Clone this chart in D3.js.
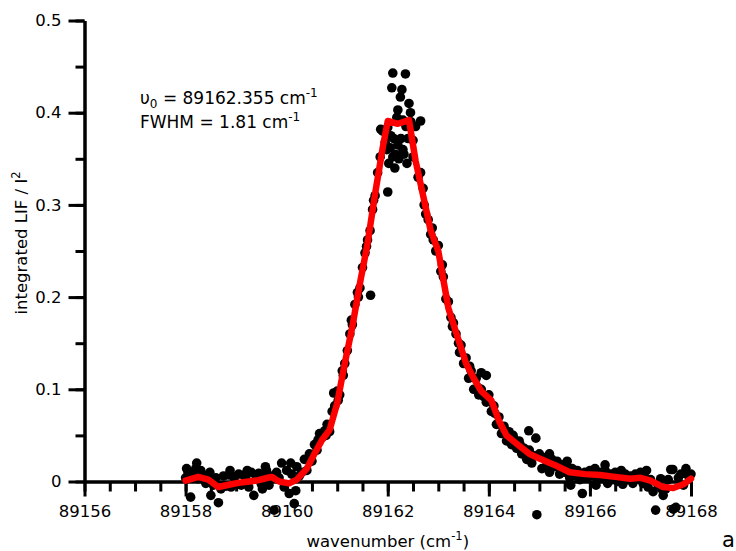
<!DOCTYPE html>
<html>
<head>
<meta charset="utf-8">
<script src="https://cdn.jsdelivr.net/npm/d3@7"></script>
<style>
  body { margin: 0; background: #fff; }
  svg { display: block; font-family: "DejaVu Sans", Verdana, sans-serif; }
</style>
</head>
<body>
<div id="chart"></div>
<script>
/*************************/
/* CONSTANTS AND GLOBALS */
/*************************/
const width = 736;
const height = 551;
const margin = { top: 20.5, bottom: 69.5, left: 84.5, right: 45 };

/* axis ticks */
const xMajorTicks = [89156, 89158, 89160, 89162, 89164, 89166, 89168];
const yMajorTicks = [0, 0.1, 0.2, 0.3, 0.4, 0.5];
const yTickLabels = ["0", "0.1", "0.2", "0.3", "0.4", "0.5"];

/* measured points: [wavenumber, integrated LIF / I^2] */
const signal = [
  [89158.00, 0.004], [89158.05, 0.010], [89158.10, -0.017], [89158.15, 0.008], [89158.20, 0.014],
  [89158.25, 0.003], [89158.30, 0.012], [89158.35, 0.006], [89158.40, -0.002], [89158.45, 0.007],
  [89158.50, -0.015], [89158.55, -0.004], [89158.60, 0.004], [89158.65, -0.023], [89158.70, -0.008],
  [89158.75, 0.006], [89158.80, -0.005], [89158.85, 0.007], [89158.90, -0.006], [89158.95, 0.005],
  [89159.00, -0.002], [89159.05, 0.008], [89159.10, -0.004], [89159.15, 0.007], [89159.20, 0.002],
  [89159.25, -0.006], [89159.30, 0.010], [89159.35, -0.015], [89159.40, 0.004], [89159.45, 0.009],
  [89159.50, -0.003], [89159.55, 0.008], [89159.60, 0.012], [89159.65, -0.004], [89159.70, 0.006],
  [89159.75, -0.031], [89159.80, 0.010], [89159.85, 0.004], [89159.90, 0.020], [89159.95, -0.006],
  [89160.00, 0.012], [89160.05, -0.013], [89160.10, 0.008], [89160.15, -0.024], [89160.20, 0.016],
  [89160.25, 0.006], [89160.30, 0.010], [89160.35, 0.024], [89160.40, 0.012], [89160.45, 0.030],
  [89160.50, 0.022], [89160.55, 0.040], [89160.60, 0.034], [89160.65, 0.052], [89160.70, 0.048],
  [89160.75, 0.055], [89160.80, 0.062], [89160.85, 0.054], [89160.90, 0.076], [89160.95, 0.082],
  [89161.00, 0.098], [89161.05, 0.094], [89161.10, 0.120], [89161.15, 0.128], [89161.20, 0.142],
  [89161.25, 0.160], [89161.30, 0.170], [89161.35, 0.192], [89161.40, 0.205], [89161.45, 0.210],
  [89161.50, 0.232], [89161.55, 0.248], [89161.60, 0.262], [89161.65, 0.272], [89161.70, 0.295],
  [89161.75, 0.310], [89161.80, 0.335], [89161.85, 0.352], [89161.90, 0.380], [89161.95, 0.368],
  [89162.00, 0.384], [89162.05, 0.362], [89162.10, 0.443], [89162.15, 0.355], [89162.20, 0.403],
  [89162.25, 0.417], [89162.30, 0.360], [89162.35, 0.442], [89162.40, 0.372], [89162.45, 0.400],
  [89162.50, 0.352], [89162.55, 0.385], [89162.60, 0.330], [89162.65, 0.335], [89162.70, 0.318],
  [89162.75, 0.290], [89162.80, 0.284], [89162.85, 0.268], [89162.90, 0.262], [89162.95, 0.250],
  [89163.00, 0.256], [89163.05, 0.228], [89163.10, 0.222], [89163.15, 0.198], [89163.20, 0.195],
  [89163.25, 0.178], [89163.30, 0.172], [89163.35, 0.160], [89163.40, 0.150], [89163.45, 0.148],
  [89163.50, 0.128], [89163.55, 0.134], [89163.60, 0.112], [89163.65, 0.120], [89163.70, 0.100],
  [89163.75, 0.112], [89163.80, 0.094], [89163.85, 0.100], [89163.90, 0.092], [89163.95, 0.086],
  [89164.00, 0.094], [89164.05, 0.076], [89164.10, 0.082], [89164.15, 0.062], [89164.20, 0.070],
  [89164.25, 0.052], [89164.30, 0.060], [89164.35, 0.044], [89164.40, 0.054], [89164.45, 0.040],
  [89164.50, 0.046], [89164.55, 0.036], [89164.60, 0.044], [89164.65, 0.030], [89164.70, 0.036],
  [89164.75, 0.024], [89164.80, 0.034], [89164.85, 0.020], [89164.90, 0.028], [89164.95, -0.036],
  [89165.00, 0.030], [89165.05, 0.014], [89165.10, 0.026], [89165.15, 0.018], [89165.20, 0.010],
  [89165.25, 0.024], [89165.30, 0.016], [89165.35, 0.022], [89165.40, 0.008], [89165.45, 0.018],
  [89165.50, 0.010], [89165.55, 0.016], [89165.60, 0.004], [89165.65, 0.014], [89165.70, 0.006],
  [89165.75, 0.012], [89165.80, 0.002], [89165.85, -0.013], [89165.90, 0.010], [89165.95, 0.004],
  [89166.00, 0.012], [89166.05, 0.006], [89166.10, 0.014], [89166.15, 0.002], [89166.20, 0.010],
  [89166.25, 0.004], [89166.30, 0.012], [89166.35, -0.002], [89166.40, 0.008], [89166.45, 0.002],
  [89166.50, 0.010], [89166.55, 0.000], [89166.60, 0.006], [89166.65, -0.003], [89166.70, 0.008],
  [89166.75, 0.002], [89166.80, 0.006], [89166.85, -0.002], [89166.90, 0.008], [89166.95, 0.004],
  [89167.00, 0.010], [89167.05, -0.002], [89167.10, 0.004], [89167.15, -0.006], [89167.20, 0.002],
  [89167.25, -0.011], [89167.30, -0.031], [89167.35, -0.004], [89167.40, 0.003], [89167.45, -0.015],
  [89167.50, -0.008], [89167.55, 0.002], [89167.60, 0.013], [89167.65, -0.030], [89167.70, -0.028],
  [89167.75, 0.004], [89167.80, 0.008], [89167.85, -0.004], [89167.90, 0.010], [89167.95, 0.006],
  [89168.00, 0.008],
  // second pass, peak and wings
  [89162.08, 0.427], [89162.28, 0.425], [89162.18, 0.395], [89162.42, 0.410], [89162.65, 0.391],
  [89161.86, 0.382], [89162.02, 0.345], [89162.22, 0.350], [89162.38, 0.345], [89161.66, 0.202],
  [89162.00, 0.314], [89162.50, 0.370], [89162.12, 0.372], [89164.79, 0.055], [89164.93, 0.047],
  [89163.95, 0.115], [89163.85, 0.118], [89160.93, 0.096], [89158.02, 0.014], [89158.22, 0.020],
  [89159.58, 0.016], [89160.08, 0.020], [89165.20, 0.030], [89165.55, 0.022], [89166.30, 0.018],
  [89167.64, 0.013], [89167.90, 0.014],
  [89161.98, 0.360], [89162.06, 0.375], [89162.14, 0.340], [89162.26, 0.372], [89162.32, 0.355],
  [89162.36, 0.385], [89162.46, 0.390], [89162.10, 0.352], [89162.30, 0.392], [89162.20, 0.365],
  [89160.62, 0.045], [89160.78, 0.050], [89161.02, 0.088], [89161.12, 0.115], [89161.28, 0.175],
  [89161.42, 0.200], [89161.58, 0.255], [89161.72, 0.305], [89162.72, 0.300], [89162.88, 0.275],
  [89163.08, 0.235], [89163.28, 0.168], [89163.42, 0.140], [89163.62, 0.125], [89163.78, 0.102],
  [89164.12, 0.074], [89164.28, 0.058], [89164.48, 0.050], [89164.62, 0.040], [89164.72, 0.030],
  [89158.48, 0.010], [89158.88, 0.012], [89159.22, 0.012], [89159.52, -0.008], [89160.18, -0.010],
  [89165.62, -0.004], [89166.12, -0.004], [89166.62, 0.012], [89167.12, 0.012], [89167.42, -0.008]
];

/* fitted profile */
const fit = [
  [89158.00, 0.001], [89158.25, 0.005], [89158.45, 0.002], [89158.65, -0.006], [89158.90, -0.003],
  [89159.10, -0.001], [89159.40, 0.001], [89159.55, 0.003], [89159.70, 0.005], [89159.85, 0.000],
  [89160.05, -0.002], [89160.20, 0.002], [89160.40, 0.014], [89160.55, 0.030], [89160.70, 0.045],
  [89160.85, 0.056], [89161.00, 0.085], [89161.15, 0.128], [89161.30, 0.168], [89161.45, 0.215],
  [89161.60, 0.258], [89161.75, 0.312], [89161.90, 0.362], [89162.00, 0.391], [89162.20, 0.388],
  [89162.42, 0.392], [89162.55, 0.348], [89162.70, 0.310], [89162.85, 0.272], [89163.00, 0.250],
  [89163.20, 0.188], [89163.35, 0.162], [89163.55, 0.128], [89163.70, 0.112], [89163.85, 0.098],
  [89164.05, 0.088], [89164.20, 0.066], [89164.35, 0.050], [89164.55, 0.041], [89164.80, 0.030],
  [89165.00, 0.025], [89165.30, 0.018], [89165.60, 0.010], [89165.90, 0.008], [89166.20, 0.007],
  [89166.50, 0.005], [89166.80, 0.003], [89167.00, 0.004], [89167.20, 0.001], [89167.45, -0.006],
  [89167.65, -0.007], [89167.85, -0.003], [89168.00, 0.003]
];

/* annotation */
const centre = "89162.355";
const fwhm = "1.81";

/*********************************************************************/
/****************************** SCALES *******************************/
/*********************************************************************/
const xScale = d3.scaleLinear()
  .domain([89156, 89168])
  .range([margin.left, width - margin.right]);

const yScale = d3.scaleLinear()
  .domain([0, 0.5])
  .range([height - margin.bottom, margin.top]);

const svg = d3.select("#chart")
  .append("svg")
  .attr("width", width)
  .attr("height", height);

/*********************************************************************/
/******************************* AXES ********************************/
/*********************************************************************/
const x0 = height - margin.bottom;

// minor x ticks every 0.5
svg.append("g")
  .attr("class", "x-minor")
  .attr("transform", `translate(0, ${x0})`)
  .call(d3.axisBottom(xScale).tickValues(d3.range(89156, 89168.01, 0.5)).tickSize(10).tickSizeOuter(0).tickFormat(""));

svg.append("g")
  .attr("class", "x-major")
  .attr("transform", `translate(0, ${x0})`)
  .call(d3.axisBottom(xScale).tickValues(xMajorTicks).tickSize(15).tickSizeOuter(0).tickPadding(9).tickFormat(d3.format("d")));

svg.append("g")
  .attr("class", "y-minor")
  .attr("transform", `translate(${margin.left}, 0)`)
  .call(d3.axisLeft(yScale).tickValues(d3.range(0, 0.501, 0.05)).tickSize(9).tickSizeOuter(0).tickFormat(""));

svg.append("g")
  .attr("class", "y-major")
  .attr("transform", `translate(${margin.left}, 0)`)
  .call(d3.axisLeft(yScale).tickValues(yMajorTicks).tickSize(16).tickSizeOuter(0).tickPadding(7)
    .tickFormat((d, i) => yTickLabels[i]));

svg.selectAll(".domain, .tick line")
  .attr("stroke", "#000")
  .attr("stroke-width", 3);

svg.selectAll(".tick text")
  .attr("fill", "#000")
  .style("font-size", "16.5px")
  .style("font-family", "'DejaVu Sans', Verdana, sans-serif");

/* axis titles */
const xTitle = svg.append("text")
  .attr("x", (xScale.range()[0] + xScale.range()[1]) / 2)
  .attr("y", 547)
  .attr("text-anchor", "middle")
  .style("font-size", "16.5px")
  .text("wavenumber (cm");
xTitle.append("tspan").attr("dy", -7).style("font-size", "11.5px").text("-1");
xTitle.append("tspan").attr("dy", 7).text(")");

const yTitle = svg.append("text")
  .attr("transform", `translate(27, ${(yScale.range()[0] + yScale.range()[1]) / 2 - 8}) rotate(-90)`)
  .attr("text-anchor", "middle")
  .style("font-size", "16.5px")
  .text("integrated LIF / I");
yTitle.append("tspan").attr("dy", -7).style("font-size", "11.5px").text("2");

/*********************************************************************/
/****************************** MARKS ********************************/
/*********************************************************************/
svg.append("g")
  .selectAll("circle")
  .data(signal)
  .join("circle")
  .attr("cx", d => xScale(d[0]))
  .attr("cy", d => yScale(d[1]))
  .attr("r", 4.8)
  .attr("fill", "#000");

const line = d3.line()
  .x(d => xScale(d[0]))
  .y(d => yScale(d[1]));

svg.append("path")
  .datum(fit)
  .attr("d", line)
  .attr("fill", "none")
  .attr("stroke", "#ff0000")
  .attr("stroke-width", 6.5)
  .attr("stroke-linejoin", "round")
  .attr("stroke-linecap", "round");

/*********************************************************************/
/*************************** ANNOTATION ******************************/
/*********************************************************************/
const note1 = svg.append("text")
  .attr("x", 140)
  .attr("y", 104)
  .style("font-size", "17px");
note1.append("tspan").text("\u03c5");
note1.append("tspan").attr("dy", 4).style("font-size", "12px").text("0");
note1.append("tspan").attr("dy", -4).text(` = ${centre} cm`);
note1.append("tspan").attr("dy", -7).style("font-size", "12px").text("-1");

const note2 = svg.append("text")
  .attr("x", 140)
  .attr("y", 128)
  .style("font-size", "17px")
  .text(`FWHM = ${fwhm} cm`);
note2.append("tspan").attr("dy", -7).style("font-size", "12px").text("-1");

svg.append("text")
  .attr("x", 722)
  .attr("y", 547)
  .style("font-size", "21px")
  .text("a");
</script>
</body>
</html>
